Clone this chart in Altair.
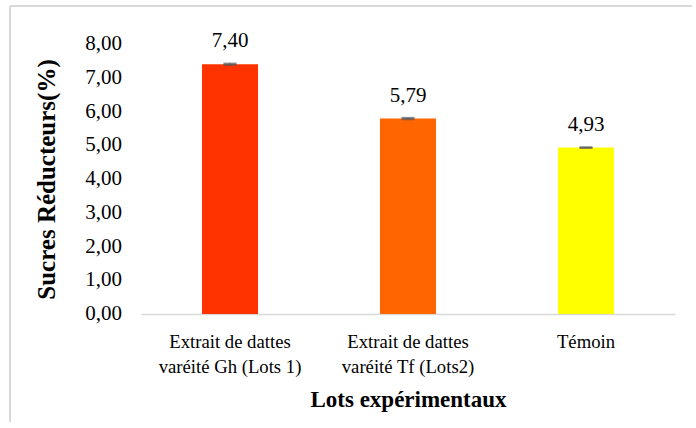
import altair as alt
import pandas as pd

# Reducing sugars per experimental batch
lots = [
    "Extrait de dattes|varéité Gh (Lots 1)",
    "Extrait de dattes|varéité Tf (Lots2)",
    "Témoin",
]
sucres = [7.40, 5.79, 4.93]
erreurs = [0.02, 0.02, 0.01]
couleurs = ["#FF3300", "#FF6600", "#FFFF00"]
y_ticks = [0, 1, 2, 3, 4, 5, 6, 7, 8]

df = pd.DataFrame({"lot": lots, "sucre": sucres, "err": erreurs, "couleur": couleurs})
ticks_df = pd.DataFrame({"v": y_ticks})

FONT = "Liberation Serif"
BORDER = "#d9d9d9"

x_axis = alt.Axis(
    title="Lots expérimentaux",
    labelExpr="split(datum.label, '|')",
    labelAngle=0,
    labelFont=FONT,
    labelFontSize=18.7,
    labelColor="#000000",
    labelLineHeight=25,
    labelPadding=18,
    ticks=False,
    domainColor=BORDER,
    domainWidth=1.5,
    titleFont=FONT,
    titleFontSize=23,
    titleFontWeight="bold",
    titleColor="#000000",
    titlePadding=13,
)
x_scale = alt.Scale(paddingInner=0.685, paddingOuter=0.3425)

# y axis keeps only its title; its value labels are a text layer below
y_axis = alt.Axis(
    title="Sucres Réducteurs(%)",
    labels=False,
    ticks=False,
    domain=False,
    grid=False,
    titleFont=FONT,
    titleFontSize=25,
    titleFontWeight="bold",
    titleColor="#000000",
    titlePadding=82,
)
y_scale = alt.Scale(domain=[0, 8], nice=False, zero=True)


def xe():
    return alt.X("lot:N", sort=None, scale=x_scale, axis=x_axis)


def ye(field):
    return alt.Y(field, scale=y_scale, axis=y_axis)


bars = alt.Chart(df).mark_bar().encode(
    x=xe(),
    y=ye("sucre:Q"),
    color=alt.Color("couleur:N", scale=None),
)

err_base = alt.Chart(df).transform_calculate(
    lo="datum.sucre - datum.err", hi="datum.sucre + datum.err"
)
err_rule = err_base.mark_rule(color="#595959", strokeWidth=1.5).encode(
    x=xe(), y=ye("lo:Q"), y2="hi:Q"
)
err_cap_hi = err_base.mark_tick(color="#595959", thickness=2, size=13).encode(
    x=xe(), y=ye("hi:Q")
)
err_cap_lo = err_base.mark_tick(color="#595959", thickness=2, size=13).encode(
    x=xe(), y=ye("lo:Q")
)

labels = alt.Chart(df).transform_calculate(
    txt="replace(format(datum.sucre, '.2f'), '.', ',')"
).mark_text(
    font=FONT, fontSize=21, color="#000000", baseline="alphabetic", dy=-17
).encode(x=xe(), y=ye("sucre:Q"), text="txt:N")

# value labels of the y scale, one per tick
y_labels = alt.Chart(ticks_df).transform_calculate(
    txt="replace(format(datum.v, '.2f'), '.', ',')"
).mark_text(
    font=FONT, fontSize=21, color="#000000", align="right", baseline="middle"
).encode(x=alt.value(-19), y=ye("v:Q"), text="txt:N")

# light frame lines along the top and left edges
frame_top = alt.Chart(df).mark_rule(color=BORDER, strokeWidth=2).encode(
    x=alt.value(-131), x2=alt.value(560), y=alt.value(-38)
)
frame_left = alt.Chart(df).mark_rule(color=BORDER, strokeWidth=2).encode(
    x=alt.value(-131), y=alt.value(-38), y2=alt.value(380)
)

chart = (
    alt.layer(bars, err_rule, err_cap_hi, err_cap_lo, labels, y_labels,
              frame_top, frame_left)
    .properties(
        width=534,
        height=270,
        autosize=alt.AutoSizeParams(type="none"),
        padding={"left": 141, "top": 44, "right": 17, "bottom": 108},
        background="#ffffff",
    )
    .configure_view(stroke=None)
)

chart.save("out.html", embed_options={"renderer": "svg", "actions": False})
